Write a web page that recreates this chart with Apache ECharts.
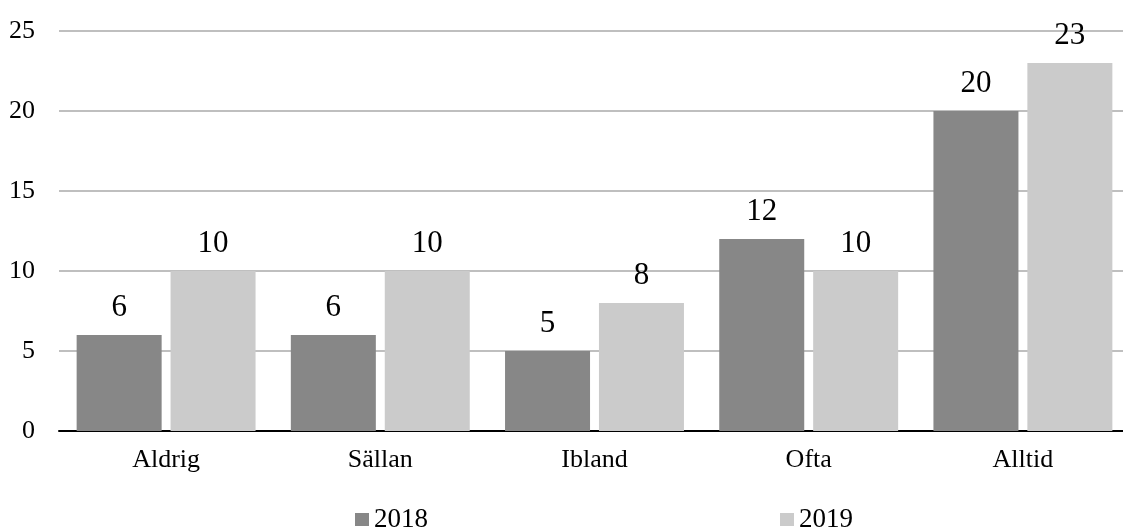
<!DOCTYPE html>
<html>
<head>
<meta charset="utf-8">
<script src="https://cdn.jsdelivr.net/npm/echarts@6/dist/echarts.min.js"></script>
<style>
  html, body { margin: 0; padding: 0; background: #ffffff; }
  #chart { width: 1123px; height: 527px; }
</style>
</head>
<body>
<div id="chart"></div>
<script>
// data
const categories = ['Aldrig', 'Sällan', 'Ibland', 'Ofta', 'Alltid']
const seriesNames = ['2018', '2019']
const values2018 = [6, 6, 5, 12, 20]
const values2019 = [10, 10, 8, 10, 23]
const barColors = ['#878787', '#cbcbcb']

const fontFamily = '"Liberation Serif", "Times New Roman", serif'

const chart = echarts.init(document.getElementById('chart'))

const makeSeries = (name, data, color) => ({
    name: name,
    type: 'bar',
    data: data,
    barWidth: 85,
    barGap: '10.5%',
    itemStyle: { color: color },
    label: {
        show: true,
        position: 'top',
        distance: 12,
        color: '#000',
        fontSize: 31,
        fontFamily: fontFamily
    }
})

const option = {
    animation: false,
    backgroundColor: '#ffffff',
    grid: {
        left: 59,
        width: 1071,
        top: 31,
        height: 400,
        containLabel: false,
        outerBoundsMode: 'none'
    },
    legend: {
        data: seriesNames,
        left: 350,
        top: 501,
        itemWidth: 14,
        itemHeight: 13,
        itemGap: 352,
        icon: 'rect',
        textStyle: { color: '#000', fontSize: 27, fontFamily: fontFamily }
    },
    xAxis: {
        type: 'category',
        data: categories,
        axisLine: { show: true, lineStyle: { color: '#000', width: 2 } },
        axisTick: { show: false },
        axisLabel: { color: '#000', fontSize: 26, fontFamily: fontFamily, margin: 16 },
        splitLine: { show: false }
    },
    yAxis: {
        type: 'value',
        min: 0,
        max: 25,
        interval: 5,
        axisLine: { show: false },
        axisTick: { show: false },
        axisLabel: { color: '#000', fontSize: 26, fontFamily: fontFamily, margin: 24 },
        splitLine: { show: true, lineStyle: { color: '#bfbfbf', width: 2 } }
    },
    series: [
        makeSeries(seriesNames[0], values2018, barColors[0]),
        makeSeries(seriesNames[1], values2019, barColors[1])
    ]
}

chart.setOption(option)
</script>
</body>
</html>
